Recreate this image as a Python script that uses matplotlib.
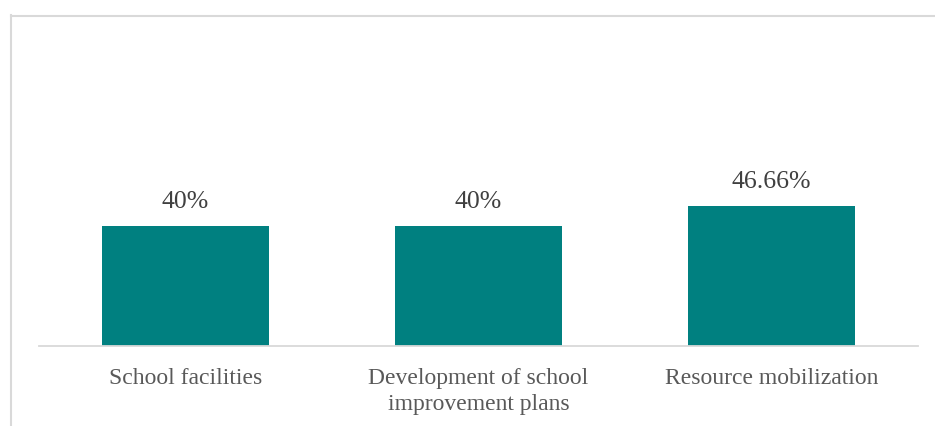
import matplotlib.pyplot as plt
from matplotlib.lines import Line2D

categories = ["School facilities", "Development of school\nimprovement plans", "Resource mobilization"]
values = [40, 40, 46.66]
value_labels = ["40%", "40%", "46.66%"]

W, H = 935, 426
fig = plt.figure(figsize=(W / 100, H / 100), dpi=100)
plt.rcParams['font.family'] = ['Liberation Serif', 'DejaVu Serif']

# axes: baseline at y=346, from x=39 to x=918
ax = fig.add_axes([39 / W, 1 - 346 / H, (918 - 39) / W, (346 - 30) / H])
x = list(range(len(categories)))
bars = ax.bar(x, values, width=0.567, color="#008080")
ax.set_xlim(-0.5, 2.5)
ax.set_ylim(0, 316 / 3)

for b, lab in zip(bars, value_labels):
    ax.annotate(lab, (b.get_x() + b.get_width() / 2, b.get_height()),
                xytext=(0, 9.5), textcoords="offset points", ha="center", va="bottom",
                fontsize=18.5, color="#404040")

ax.set_xticks(x)
ax.set_xticklabels(categories, fontsize=17, color="#595959", linespacing=1.32)
ax.tick_params(axis="x", length=0, pad=15.5)
ax.set_yticks([])
for s in ["top", "right", "left"]:
    ax.spines[s].set_visible(False)
ax.spines["bottom"].set_color("#D9D9D9")
ax.spines["bottom"].set_linewidth(1.3)

# chart area border (top and left visible)
fig.add_artist(Line2D([10.5 / W, 10.5 / W], [0, 1 - 15 / H], color="#D9D9D9", lw=1.5))
fig.add_artist(Line2D([10.5 / W, 1], [1 - 15.5 / H, 1 - 15.5 / H], color="#D9D9D9", lw=1.5))

fig.savefig("out.png", dpi=100)
